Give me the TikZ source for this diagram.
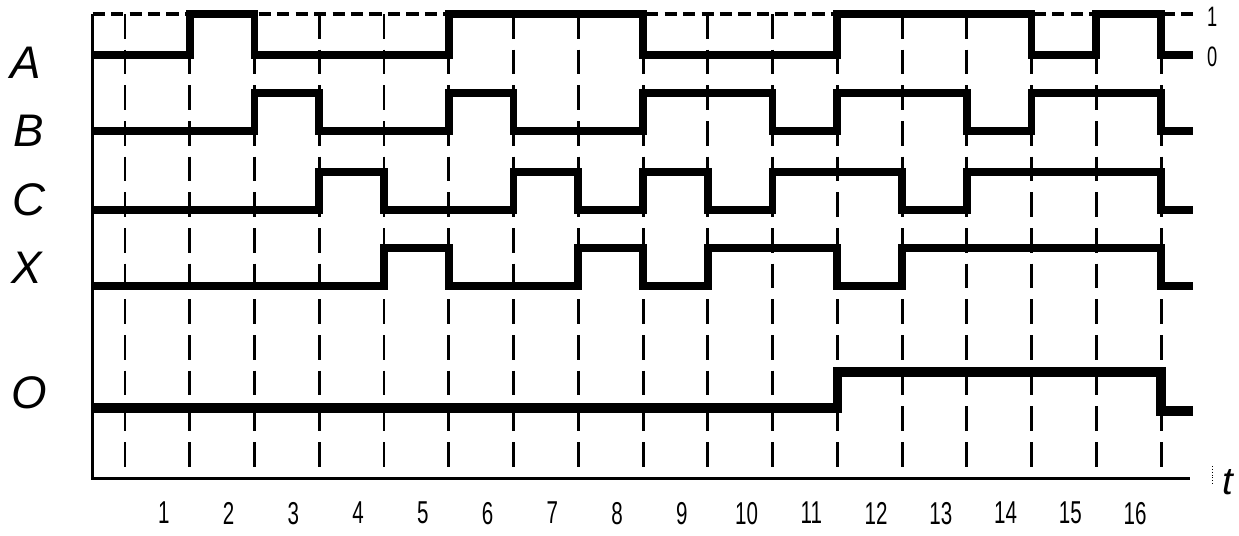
\documentclass[tikz,border=0pt]{standalone}
\usepackage{fontspec}
\setmainfont{Liberation Sans}
\newfontfamily\narrowfont[FakeStretch=0.65]{Liberation Sans}

\begin{document}
\begin{tikzpicture}[x=1.295cm, y=-0.02cm,
    sig/.style={line width=4.4pt},
    sigo/.style={line width=5.3pt},
    grille/.style={line width=1.7pt, dash pattern=on 14pt off 6.3pt},
    haut/.style={line width=1.8pt, dash pattern=on 7pt off 3.5pt},
    axe/.style={line width=1.7pt},
    lettre/.style={font=\fontsize{26}{30}\selectfont\itshape},
    chiffre/.style={font=\narrowfont\fontsize{18}{20}\selectfont},
    niveau/.style={font=\narrowfont\fontsize{16}{18}\selectfont}]
  % cadre (x en périodes, y en pixels)
  \useasboundingbox (-1.9305,0) rectangle (17.2046,535);
  % lignes de temps en pointillés
  \foreach \k in {0,...,16}
    \draw[grille] (\k,14) -- (\k,478);
  \draw[haut] (-0.5,14) -- (16.5,14);
  % axes
  \draw[axe] (-0.5,14) -- (-0.5,478) -- (16.45,478);
  \draw[densely dotted, line width=0.6pt] (16.79,466) -- (16.79,483);
  % signaux d'entrée
  \draw[sig] (-0.5,55) -| (1,14) -| (2,55) -| (5,14) -| (8,55) -| (11,14)
    -| (14,55) -| (15,14) -| (16,55) -- (16.5,55);
  \draw[sig] (-0.5,131) -| (2,93) -| (3,131) -| (5,93) -| (6,131) -| (8,93)
    -| (10,131) -| (11,93) -| (13,131) -| (14,93) -| (16,131) -- (16.5,131);
  \draw[sig] (-0.5,210) -| (3,172) -| (4,210) -| (6,172) -| (7,210) -| (8,172)
    -| (9,210) -| (10,172) -| (12,210) -| (13,172) -| (16,210) -- (16.5,210);
  \draw[sig] (-0.5,286) -| (4,248) -| (5,286) -| (7,248) -| (8,286) -| (9,248)
    -| (11,286) -| (12,248) -| (16,286) -- (16.5,286);
  % sortie
  \draw[sigo] (-0.5,408) -| (11,372) -| (16,411) -- (16.5,411);
  % noms des signaux
  \node[lettre] (labA) at (-1.53,63) {A};
  \node[lettre] (labB) at (-1.49,131) {B};
  \node[lettre] (labC) at (-1.49,200) {C};
  \node[lettre] (labX) at (-1.52,268) {X};
  \node[lettre] (labO) at (-1.48,393) {O};
  % niveaux logiques
  \node[niveau] (un) at (16.79,17) {1};
  \node[niveau] (zero) at (16.79,57) {0};
  % numéros des périodes
  \foreach \k in {1,...,16}
    \node[chiffre] (n\k) at ({\k-0.4},513) {\k};
  \node[lettre, font=\fontsize{22}{26}\selectfont\itshape] (temps) at (17.03,482) {t};
\end{tikzpicture}
\end{document}
